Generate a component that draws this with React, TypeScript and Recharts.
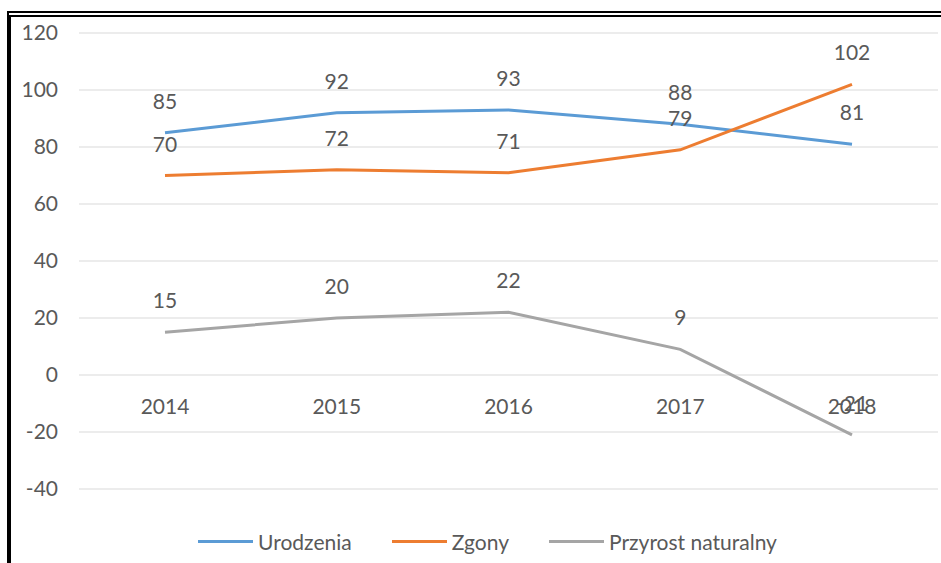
import React from 'react'
import { CartesianGrid, LabelList, Legend, Line, LineChart, XAxis, YAxis } from 'recharts'

const years = ['2014', '2015', '2016', '2017', '2018']
const urodzenia = [85, 92, 93, 88, 81]
const zgony = [70, 72, 71, 79, 102]
const przyrost = [15, 20, 22, 9, -21]
const yTicks = [-40, -20, 0, 20, 40, 60, 80, 100, 120]

const series = [
    { key: 'urodzenia', name: 'Urodzenia', color: '#5B9BD5' },
    { key: 'zgony', name: 'Zgony', color: '#ED7D31' },
    { key: 'przyrost', name: 'Przyrost naturalny', color: '#A5A5A5' }
]

const data = years.map((year, i) => ({
    year,
    urodzenia: urodzenia[i],
    zgony: zgony[i],
    przyrost: przyrost[i]
}))

const FONT = 'Lato, "Open Sans", sans-serif'
const TEXT = '#595959'
const FS = 21

// Excel puts category labels just under the zero line
const YearTick = (props: any) => {
    const { x, y, payload } = props
    return (
        <text
            x={x}
            y={y}
            dy={-75}
            textAnchor={'middle'}
            fill={TEXT}
            fontSize={FS}
            fontFamily={FONT}
        >
            {payload.value}
        </text>
    )
}

const LegendBox = () => (
    <div
        style={{
            height: 44,
            display: 'flex',
            justifyContent: 'center',
            alignItems: 'center',
            fontFamily: FONT,
            fontSize: FS,
            color: TEXT
        }}
    >
        {series.map((s, i) => (
            <div
                key={s.key}
                style={{ display: 'flex', alignItems: 'center', marginLeft: i ? 40 : 0 }}
            >
                <div style={{ width: 55, height: 3, background: s.color, marginRight: 5 }} />
                <span>{s.name}</span>
            </div>
        ))}
    </div>
)

const App: React.FC = () => (
    <div
        style={{
            position: 'absolute',
            left: 0,
            top: 0,
            width: 941,
            height: 563,
            background: '#fff',
            overflow: 'hidden'
        }}
    >
        <div
            style={{
                position: 'absolute',
                left: 7,
                top: 11,
                right: -10,
                bottom: -10,
                borderTop: '6px double #000',
                borderLeft: '4px solid #000'
            }}
        />
        <LineChart
            width={941}
            height={563}
            data={data}
            margin={{ top: 33, right: 3, left: 8, bottom: 0 }}
        >
            <CartesianGrid
                vertical={false}
                stroke={'#D9D9D9'}
            />
            <XAxis
                dataKey={'year'}
                height={30}
                axisLine={false}
                tickLine={false}
                tickSize={0}
                tickMargin={0}
                padding={{ left: 86, right: 86 }}
                tick={<YearTick />}
                interval={0}
            />
            <YAxis
                width={71}
                domain={[-40, 120]}
                ticks={yTicks}
                axisLine={false}
                tickLine={false}
                tickSize={0}
                tickMargin={21}
                tick={{ fill: TEXT, fontSize: FS, fontFamily: FONT }}
            />
            <Legend
                verticalAlign={'bottom'}
                content={<LegendBox />}
                wrapperStyle={{ left: 34, width: 907 }}
            />
            {series.map(s => (
                <Line
                    key={s.key}
                    dataKey={s.key}
                    name={s.name}
                    stroke={s.color}
                    strokeWidth={3}
                    dot={false}
                    activeDot={false}
                    isAnimationActive={false}
                >
                    <LabelList
                        dataKey={s.key}
                        position={'top'}
                        offset={24}
                        fill={TEXT}
                        fontSize={FS}
                        fontFamily={FONT}
                    />
                </Line>
            ))}
        </LineChart>
    </div>
)

export default App
